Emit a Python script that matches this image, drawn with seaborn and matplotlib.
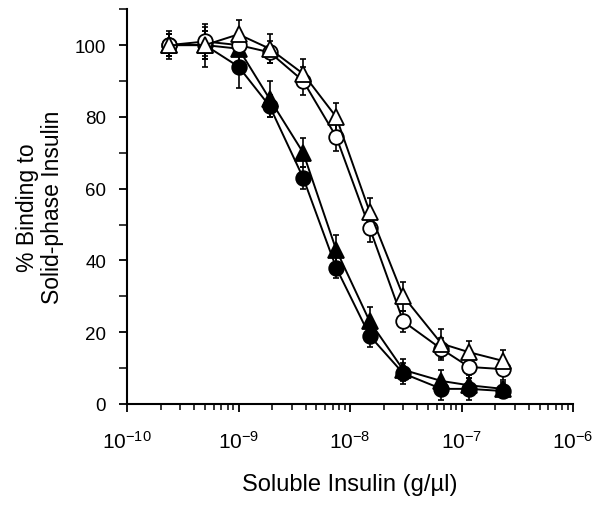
import numpy as np
import pandas as pd
import matplotlib
matplotlib.use('Agg')
import matplotlib.pyplot as plt
import seaborn as sns
from matplotlib.ticker import LogLocator, FixedLocator, NullFormatter

# soluble insulin concentrations (g/ul)
conc = [2.4e-10, 5.0e-10, 1.0e-9, 1.9e-9, 3.8e-9, 7.5e-9, 1.5e-8, 3.0e-8, 6.6e-8, 1.17e-7, 2.35e-7]

# % binding for each series
filled_circle = [100, 100, 94, 83, 63, 38, 19, 8.5, 4.2, 4.2, 3.6]
filled_circle_err = [3, 4, 6, 3, 3, 3, 3, 3, 3, 3, 2]
filled_triangle = [100, 100, 99, 85, 70, 43, 23, 9.5, 6.4, 5.2, 4.2]
filled_triangle_err = [3, 4, 4, 5, 4, 4, 4, 3, 3, 3, 2]
open_circle = [100, 101, 100, 98, 90, 74.5, 49, 23, 15.3, 10.3, 9.7]
open_circle_err = [3, 4, 3, 3, 4, 4, 4, 3, 3, 3, 3]
open_triangle = [100, 100, 103, 99, 92, 80, 53.5, 30, 16.8, 14.4, 12]
open_triangle_err = [4, 6, 4, 4, 4, 4, 4, 4, 4, 3, 3]

series = [
    ('filled_circle', filled_circle, filled_circle_err, 'o', 'black'),
    ('filled_triangle', filled_triangle, filled_triangle_err, '^', 'black'),
    ('open_circle', open_circle, open_circle_err, 'o', 'white'),
    ('open_triangle', open_triangle, open_triangle_err, '^', 'white'),
]

sns.set_style('ticks')
plt.rcParams['font.family'] = ['Liberation Sans', 'DejaVu Sans']
plt.rcParams['mathtext.default'] = 'regular'
plt.rcParams['text.color'] = 'black'
plt.rcParams['axes.labelcolor'] = 'black'

fig = plt.figure(figsize=(6.02, 5.10), dpi=100)
ax = fig.add_axes([0.211, 0.206, 0.741, 0.774])

for name, vals, errs, mk, fc in series:
    df = pd.DataFrame({'conc': conc, 'binding': vals})
    ax.errorbar(conc, vals, yerr=errs, fmt='none', ecolor='black',
                elinewidth=1.2, capsize=2.5, capthick=1.2, zorder=2)
    sns.lineplot(data=df, x='conc', y='binding', ax=ax, color='black',
                 linewidth=1.4, marker=mk, markersize=10.5 if mk == 'o' else 11,
                 markerfacecolor=fc, markeredgecolor='black', markeredgewidth=1.3,
                 zorder=3)

ax.set_xscale('log')
ax.set_xlim(1e-10, 1e-6)
ax.set_ylim(0, 110)

ax.xaxis.set_minor_locator(LogLocator(base=10, subs=np.arange(2, 10), numticks=10))
ax.xaxis.set_minor_formatter(NullFormatter())
ax.set_xticks([1e-10, 1e-9, 1e-8, 1e-7, 1e-6])
ax.set_xticklabels(['$10^{-10}$', '$10^{-9}$', '$10^{-8}$', '$10^{-7}$', '$10^{-6}$'])

ax.set_yticks([0, 20, 40, 60, 80, 100])
ax.yaxis.set_minor_locator(FixedLocator([10, 30, 50, 70, 90, 110]))

ax.tick_params(axis='both', which='major', direction='out', length=6, width=1.3,
               labelsize=13.5, pad=9, colors='black')
ax.tick_params(axis='both', which='minor', direction='out', length=4, width=1.1,
               colors='black')
ax.tick_params(axis='y', which='minor', length=6)
ax.tick_params(axis='x', which='major', pad=13, labelsize=15)

for s in ['top', 'right']:
    ax.spines[s].set_visible(False)
for s in ['left', 'bottom']:
    ax.spines[s].set_linewidth(1.5)
    ax.spines[s].set_color('black')

ax.set_xlabel('Soluble Insulin (g/\u00b5l)', fontsize=17, labelpad=15)
ax.set_ylabel('% Binding to\nSolid-phase Insulin', fontsize=16.5, labelpad=8,
              linespacing=1.1)

fig.savefig('out.png', dpi=100)
